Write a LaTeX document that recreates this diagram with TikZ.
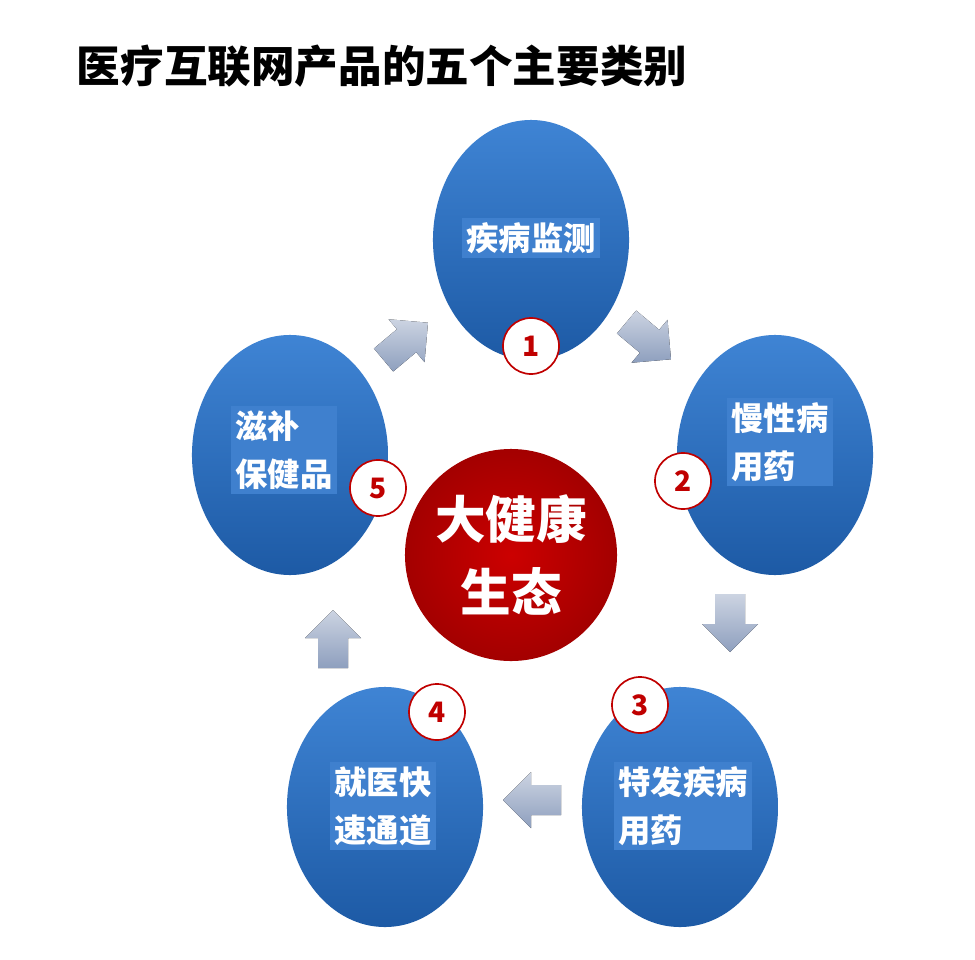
\documentclass[tikz,border=0pt]{standalone}
\usepackage{fontspec}
\setmainfont{Noto Sans CJK SC}
\usetikzlibrary{shapes.geometric}
\definecolor{bluetop}{HTML}{3F84D4}
\definecolor{bluebot}{HTML}{1D5AA5}
\definecolor{txtbox}{HTML}{3F80CE}
\definecolor{redc}{HTML}{C00000}
\definecolor{arrowc}{HTML}{8E9FBE}
\tikzset{
 bluec/.style={ellipse,minimum width=4.9cm,minimum height=6cm,draw=none,top color=bluetop,bottom color=bluebot},
 numc/.style={circle,draw=redc,line width=1.2pt,fill=white,minimum size=1.4cm,text=redc,font=\bfseries\fontsize{20}{20}\selectfont},
 lbl/.style={fill=txtbox,text=white,font=\bfseries\fontsize{23}{34}\selectfont,align=left,inner sep=3pt},
 barrowfill/.style={top color=arrowc!45!white,bottom color=arrowc,draw=none}
}
\newcommand{\blockarrow}[3]{%
 \begin{scope}[shift={(#1,#2)},rotate=#3]
 \fill[barrowfill] (-28,-15) -- (2,-15) -- (2,-28) -- (30,0) -- (2,28) -- (2,15) -- (-28,15) -- cycle;
 \end{scope}}
\begin{document}
\begin{tikzpicture}[x=0.025cm,y=-0.025cm]
\useasboundingbox (0,0) rectangle (975,960);
\fill[white] (0,0) rectangle (975,960);
\node[anchor=west,font=\bfseries\fontsize{31}{31}\selectfont] (title) at (72,66) {医疗互联网产品的五个主要类别};
\node[bluec] (c1) at (531,240) {};
\node[bluec] (c2) at (775,455) {};
\node[bluec] (c3) at (680,807) {};
\node[bluec] (c4) at (385,807) {};
\node[bluec] (c5) at (290,455) {};
\node[circle,minimum size=5.3cm,inner color=red!80!black,outer color=redc!85!black] (ctr) at (511,555) {};
\node[text=white,font=\bfseries\fontsize{36}{52}\selectfont,align=center] (ctrt) at (511,555) {大健康\\生态};
\node[lbl] (t1) at (531,238) {疾病监测};
\node[lbl] (t2) at (780,442) {慢性病\\用药};
\node[lbl] (t3) at (683,806) {特发疾病\\用药};
\node[lbl] (t4) at (383,806) {就医快\\速通道};
\node[lbl] (t5) at (284,450) {滋补\\保健品};
\node[numc] (n1) at (531,346) {1};
\node[numc] (n2) at (683,481) {2};
\node[numc] (n3) at (640,705) {3};
\node[numc] (n4) at (437,712) {4};
\node[numc] (n5) at (378,488) {5};
\blockarrow{405}{342}{40}
\blockarrow{648}{340}{-40}
\blockarrow{730}{622}{-90}
\blockarrow{533}{800}{180}
\blockarrow{333}{640}{90}
\end{tikzpicture}
\end{document}
